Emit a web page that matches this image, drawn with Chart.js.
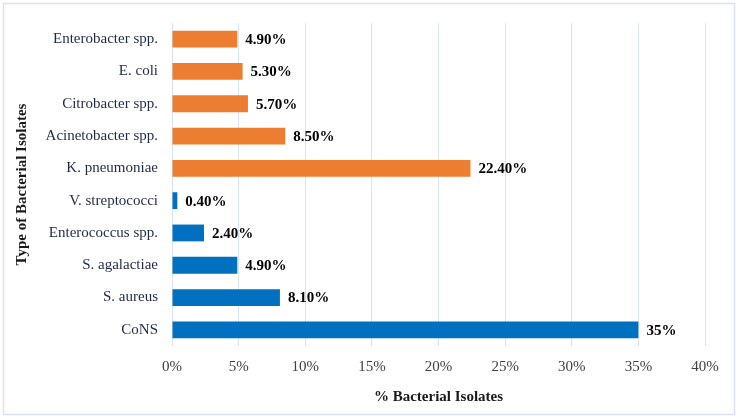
<html>
    <head>
        <script src="https://cdn.jsdelivr.net/npm/chart.js@4.4.0/dist/chart.umd.min.js"></script>
        <style>
            body {
                margin: 0px;
                background: #ffffff;
            }

            #wrap {
                width: 738px;
                height: 418px;
            }
        </style>
    </head>

    <body>
        <div id="wrap">
            <canvas id="chart" width="738" height="418"></canvas>
        </div>
        <script>
            // Data (top to bottom)
            const categories = [
                'Enterobacter spp.',
                'E. coli',
                'Citrobacter spp.',
                'Acinetobacter spp.',
                'K. pneumoniae',
                'V. streptococci',
                'Enterococcus spp.',
                'S. agalactiae',
                'S. aureus',
                'CoNS',
            ]
            const percentValues = [4.9, 5.3, 5.7, 8.5, 22.4, 0.4, 2.4, 4.9, 8.1, 35]
            const valueLabels = ['4.90%', '5.30%', '5.70%', '8.50%', '22.40%', '0.40%', '2.40%', '4.90%', '8.10%', '35%']
            // gram-negative (orange) vs gram-positive (blue)
            const groups = ['neg', 'neg', 'neg', 'neg', 'neg', 'pos', 'pos', 'pos', 'pos', 'pos']
            const xTicks = [0, 5, 10, 15, 20, 25, 30, 35, 40]

            const groupColors = { neg: '#ED7D31', pos: '#0070C0' }
            const serif = "'Liberation Serif', 'Times New Roman', serif"

            // frame round the whole chart
            const framePlugin = {
                id: 'frame',
                beforeDraw(chart) {
                    const ctx = chart.ctx
                    ctx.save()
                    ctx.fillStyle = '#ffffff'
                    ctx.fillRect(0, 0, chart.width, chart.height)
                    ctx.strokeStyle = '#D9E2F1'
                    ctx.lineWidth = 1.5
                    ctx.strokeRect(3.5, 3.5, chart.width - 7, chart.height - 7)
                    ctx.restore()
                },
            }

            // value labels at the end of each bar
            const valueLabelPlugin = {
                id: 'valueLabels',
                afterDatasetsDraw(chart) {
                    const ctx = chart.ctx
                    const meta = chart.getDatasetMeta(0)
                    ctx.save()
                    ctx.font = 'bold 15px ' + serif
                    ctx.fillStyle = '#000000'
                    ctx.textAlign = 'left'
                    ctx.textBaseline = 'middle'
                    meta.data.forEach((bar, i) => {
                        ctx.fillText(valueLabels[i], bar.x + 8, bar.y + 1)
                    })
                    ctx.restore()
                },
            }

            const ctx = document.getElementById('chart')
            const chart = new Chart(ctx, {
                type: 'bar',
                data: {
                    labels: categories,
                    datasets: [
                        {
                            data: percentValues,
                            backgroundColor: groups.map((g) => groupColors[g]),
                            categoryPercentage: 1,
                            barPercentage: 0.52,
                        },
                    ],
                },
                options: {
                    indexAxis: 'y',
                    responsive: false,
                    animation: false,
                    layout: {
                        padding: { left: 12, right: 33, top: 20, bottom: 8 },
                    },
                    plugins: {
                        legend: { display: false },
                        tooltip: { enabled: false },
                    },
                    scales: {
                        x: {
                            type: 'linear',
                            min: 0,
                            max: 40,
                            afterBuildTicks: (axis) => {
                                axis.ticks = xTicks.map((v) => ({ value: v }))
                            },
                            afterFit: (axis) => {
                                axis.height = 64
                            },
                            grid: {
                                color: '#D6E3F0',
                                lineWidth: 1,
                                drawTicks: false,
                            },
                            border: { display: false },
                            ticks: {
                                padding: 12,
                                color: '#404040',
                                font: { family: serif, size: 15 },
                                callback: (v) => v + '%',
                            },
                            title: {
                                display: true,
                                text: '% Bacterial Isolates',
                                color: '#1a1a1a',
                                font: { family: serif, size: 15, weight: 'bold' },
                                padding: { top: 0, bottom: 4 },
                            },
                        },
                        y: {
                            afterFit: (axis) => {
                                axis.width = 160
                            },
                            grid: { display: false, drawTicks: false },
                            border: { display: false },
                            ticks: {
                                padding: 14,
                                color: '#1F2A44',
                                font: { family: serif, size: 15 },
                            },
                            title: {
                                display: true,
                                text: 'Type of Bacterial Isolates',
                                color: '#1a1a1a',
                                font: { family: serif, size: 15, weight: 'bold' },
                                padding: { top: 1, bottom: 0 },
                            },
                        },
                    },
                },
                plugins: [framePlugin, valueLabelPlugin],
            })
        </script>
    </body>
</html>
